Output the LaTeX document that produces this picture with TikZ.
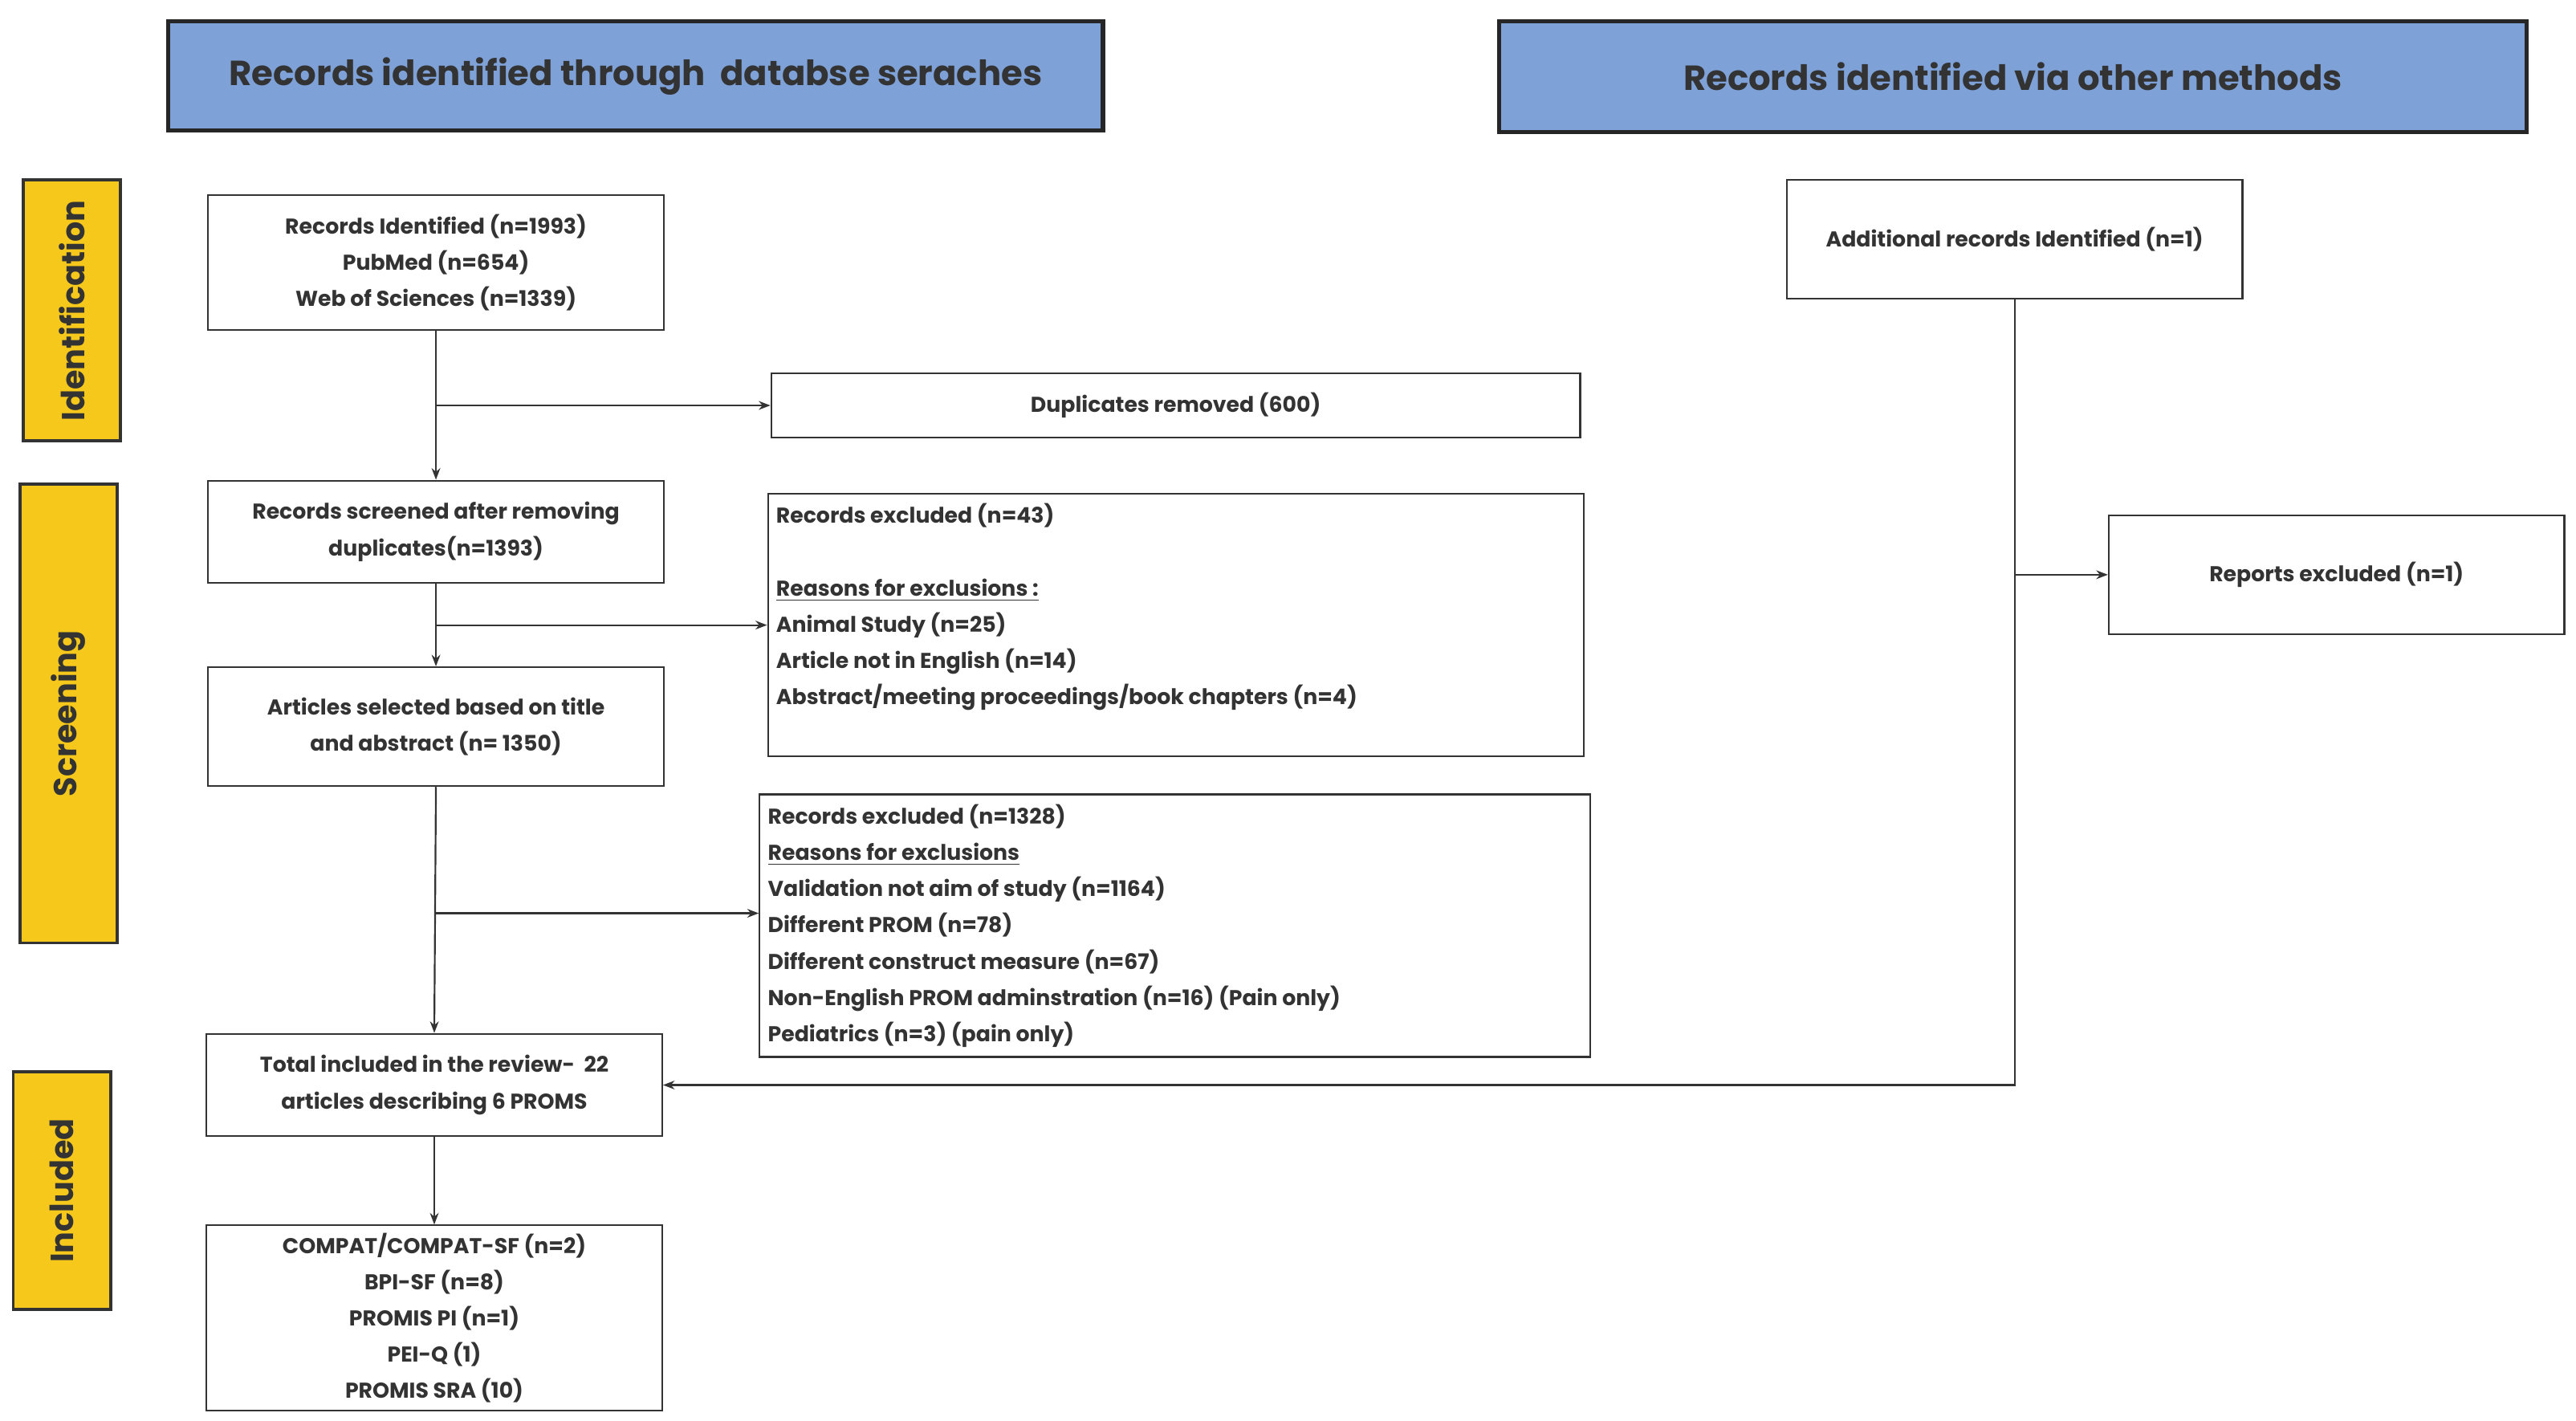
\documentclass[tikz,border=0pt]{standalone}
\usepackage{fontspec}
\setmainfont{Poppins}
\usetikzlibrary{arrows.meta}
\definecolor{hdr}{HTML}{7EA1D8}
\definecolor{side}{HTML}{F7C81C}
\definecolor{ink}{HTML}{333333}
\begin{document}
\begin{tikzpicture}[x=0.02cm,y=-0.02cm,
  box/.style={draw=ink,line width=0.6pt,rectangle,align=center,text=ink,font=\fontsize{7.4}{12.5}\selectfont\bfseries,inner sep=2pt},
  hdr/.style={draw=black!85,line width=1.4pt,fill=hdr,text=ink,font=\fontsize{12}{14}\selectfont\bfseries},
  side/.style={draw=black!80,line width=1pt,fill=side,text=ink,font=\fontsize{11}{13}\selectfont\bfseries},
  lbl/.style={rotate=90,text=ink,font=\fontsize{11}{13}\selectfont\bfseries},
  conn/.style={draw=ink,line width=0.6pt,-{Stealth[length=4pt,width=3pt]}},
  plain/.style={draw=ink,line width=0.6pt}]
\useasboundingbox (0,0) rectangle (1560,860);
\node[hdr,minimum width=11.32cm,minimum height=1.32cm] (t1) at (385,46) {Records identified through\ \ databse seraches};
\node[hdr,minimum width=12.44cm,minimum height=1.34cm] (t2) at (1219,46.5) {Records identified via other methods};
\node[side,minimum width=1.18cm,minimum height=3.16cm] (s1) at (43.5,188) {};
\node[lbl] (l1) at (s1) {Identification};
\node[side,minimum width=1.18cm,minimum height=5.56cm] (s2) at (41.5,432) {};
\node[lbl] (l2) at (s2) {Screening};
\node[side,minimum width=1.18cm,minimum height=2.88cm] (s3) at (37.5,721) {};
\node[lbl] (l3) at (s3) {Included};

\node[box,minimum width=5.52cm,minimum height=1.64cm] (A) at (264,159) {Records Identified (n=1993)\\PubMed (n=654)\\Web of Sciences (n=1339)};
\node[box,minimum width=9.8cm,minimum height=0.78cm] (dup) at (712,245.5) {Duplicates removed (600)};
\node[box,minimum width=5.52cm,minimum height=1.24cm] (B) at (264,322) {Records screened after removing\\duplicates(n=1393)};
\node[box,minimum width=9.88cm,minimum height=3.18cm] (ex1) at (712,378.5) {};
\node[box,draw=none,anchor=north west,align=left] (ex1t) at (466,301) {Records excluded (n=43)\\[12.5pt]\underline{Reasons for exclusions :}\\Animal Study (n=25)\\Article not in English (n=14)\\Abstract/meeting proceedings/book chapters (n=4)};
\node[box,minimum width=5.52cm,minimum height=1.44cm] (C) at (264,440) {Articles selected based on title\\and abstract (n= 1350)};
\node[box,minimum width=10.06cm,minimum height=3.18cm] (ex2) at (711.5,560.5) {};
\node[box,draw=none,anchor=north west,align=left] (ex2t) at (461,483) {Records excluded (n=1328)\\\underline{Reasons for exclusions}\\Validation not aim of study (n=1164)\\Different PROM (n=78)\\Different construct measure (n=67)\\Non-English PROM adminstration (n=16) (Pain only)\\Pediatrics (n=3) (pain only)};
\node[box,minimum width=5.52cm,minimum height=1.24cm] (D) at (263,657) {Total included in the review- \ 22\\articles describing 6 PROMS};
\node[box,minimum width=5.52cm,minimum height=2.24cm] (E) at (263,798) {COMPAT/COMPAT-SF (n=2)\\BPI-SF (n=8)\\PROMIS PI (n=1)\\PEI-Q (1)\\PROMIS SRA (10)};
\node[box,minimum width=5.52cm,minimum height=1.44cm] (O) at (1220,145) {Additional records Identified (n=1)};
\node[box,minimum width=5.52cm,minimum height=1.44cm] (R) at (1415,348) {Reports excluded (n=1)};

\draw[conn] (A.south) -- (B.north);
\draw[conn] (A.south |- dup.west) -- (dup.west);
\draw[conn] (B.south) -- (C.north);
\draw[conn] (B.south |- ex1.west) -- (ex1.west);
\draw[conn] (C.south) -- (D.north);
\draw[conn] (C.south |- 0,553) -- (ex2.west |- 0,553);
\draw[conn] (D.south) -- (E.north);
\draw[conn] (O.south) |- (D.east);
\draw[conn] (O.south |- R.west) -- (R.west);
\end{tikzpicture}
\end{document}
